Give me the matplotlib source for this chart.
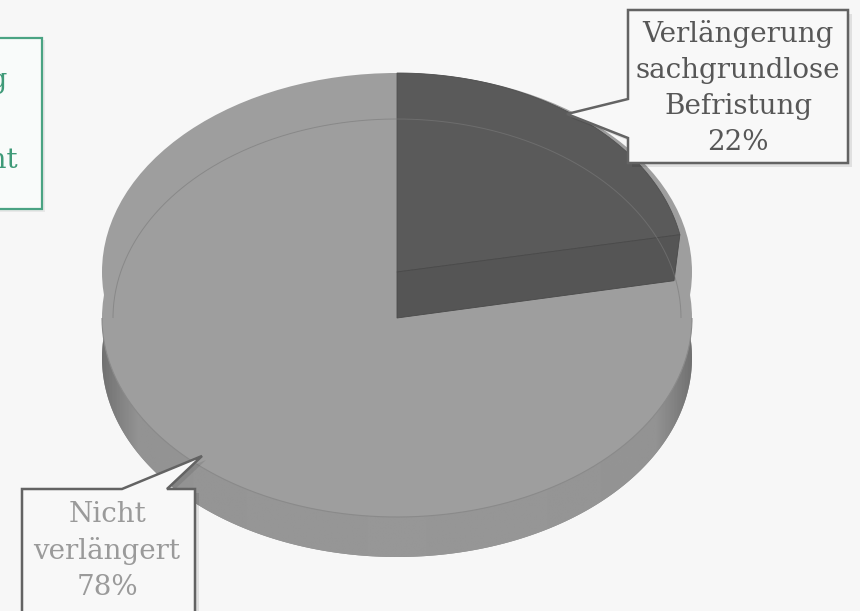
import numpy as np
import matplotlib
matplotlib.use("Agg")
import matplotlib.pyplot as plt
from matplotlib.patches import Polygon, Ellipse
from matplotlib.path import Path
from matplotlib.patches import PathPatch

# ---- data ----
categories = ["Verlängerung\nsachgrundlose\nBefristung", "Nicht\nverlängert"]
shares = [22, 78]
legend_fragments = ["Verlängerung", "Unbekannt"]

# ---- figure in pixel coordinates ----
W, H = 860, 611
fig = plt.figure(figsize=(W / 100, H / 100), dpi=100)
bg = "#f7f7f7"
fig.patch.set_facecolor(bg)
ax = fig.add_axes([0, 0, 1, 1])
ax.set_xlim(0, W)
ax.set_ylim(H, 0)
ax.axis("off")
ax.set_facecolor(bg)

FONT = "DejaVu Serif"

# ---- cut-off legend box on the left ----
ax.add_patch(Polygon([(-10, 40), (45, 40), (45, 212), (-10, 212)], closed=True,
                     facecolor="#000000", alpha=0.06, edgecolor="none", zorder=1))
ax.add_patch(Polygon([(-10, 38), (42, 38), (42, 209), (-10, 209)], closed=True,
                     facecolor="#f9fbfa", edgecolor="#4aa383", lw=1.6, zorder=2))
ax.text(8, 88, legend_fragments[0], ha="right", va="baseline", fontsize=20,
        family=FONT, color="#3f9a78", zorder=3, clip_on=True)
ax.text(18, 168, legend_fragments[1], ha="right", va="baseline", fontsize=20,
        family=FONT, color="#3f9a78", zorder=3, clip_on=True)

# ---- pie geometry (pixel units) ----
cx = 397
a_out, a_in, b = 295, 288, 199
cy_top = 272      # raised top level
cy_face = 318     # light top face
cy_bot = 358      # bottom of side wall


def ell_pt(theta_deg, cy, a):
    t = np.radians(theta_deg)
    return cx + a * np.cos(t), cy - b * np.sin(t)


def ell_arc(t0, t1, cy, a, n=200):
    t = np.radians(np.linspace(t0, t1, n))
    return np.column_stack([cx + a * np.cos(t), cy - b * np.sin(t)])

# side wall with gradient
side_path = Path(ell_arc(0, 360, cy_bot, a_out, 400), closed=True)
side_patch = PathPatch(side_path, facecolor="#8e8e8e", edgecolor="none", zorder=4)
ax.add_patch(side_patch)
xs = np.linspace(0, 1, 400)
prof = 0.56 + 0.03 * np.sin(np.pi * xs) ** 0.4
prof = np.where((xs < 0.06) | (xs > 0.94), prof - 0.12 * (1 - np.minimum(xs, 1 - xs) / 0.06), prof)
grad = np.tile(prof, (10, 1))
im = ax.imshow(grad, cmap="gray", vmin=0, vmax=1, extent=(cx - a_out, cx + a_out, cy_bot + b, cy_bot - b),
               aspect="auto", zorder=4.5, interpolation="bilinear")
im.set_clip_path(side_patch)

light = "#9e9e9e"
ax.add_patch(Ellipse((cx, cy_face), 2 * a_out, 2 * b, facecolor=light, edgecolor="none", zorder=5))
ax.add_patch(Ellipse((cx, cy_top), 2 * a_out, 2 * b, facecolor=light, edgecolor="none", zorder=5))
ax.add_patch(Polygon(ell_arc(180, 360, cy_face, a_out), closed=False, fill=False,
                     edgecolor="#8a8a8a", lw=0.8, zorder=5.2))

# dark slice: starts at 12 o'clock, clockwise
start = 90
end = 90 - shares[0] / sum(shares) * 360
top_face = np.vstack([[(cx, cy_top)], ell_arc(start, end, cy_top, a_in)])
ax.add_patch(Polygon(top_face, closed=True, facecolor="#5a5a5a", edgecolor="#505050", lw=0.6, zorder=6))
pe_top = ell_pt(end, cy_top, a_in)
pe_face = ell_pt(end, cy_face, a_in - 6)
ax.add_patch(Polygon([(cx, cy_top), pe_top, pe_face, (cx, cy_face)], closed=True,
                     facecolor="#555555", edgecolor="#4a4a4a", lw=0.6, zorder=6.5))

# faint inner rim line across the top
ax.add_patch(Polygon(ell_arc(0, 180, cy_face, a_in - 4), closed=False, fill=False,
                     edgecolor="#7a7a7a", lw=0.7, alpha=0.6, zorder=7))

# ---- callouts ----
def callout(outline, text, tcolor, tx, ty):
    sh = [(x + 4, y + 4) for x, y in outline]
    ax.add_patch(Polygon(sh, closed=True, facecolor="#000000", alpha=0.09, edgecolor="none", zorder=8))
    ax.add_patch(Polygon(outline, closed=True, facecolor="#f8f8f8", edgecolor="#636363",
                         lw=1.8, joinstyle="miter", zorder=9))
    ax.text(tx, ty, text, ha="center", va="center", fontsize=20, family=FONT,
            color=tcolor, linespacing=1.42, zorder=10)

callout([(628, 10), (848, 10), (848, 163), (628, 163), (628, 138), (567, 114), (628, 99)],
        f"{categories[0]}\n{shares[0]}%", "#575757", 738, 88)
callout([(22, 489), (122, 489), (202, 456), (167, 489), (195, 489), (195, 660), (22, 660)],
        f"{categories[1]}\n{shares[1]}%", "#9a9a9a", 107, 551)

fig.savefig("out.png", dpi=100, facecolor=bg)
